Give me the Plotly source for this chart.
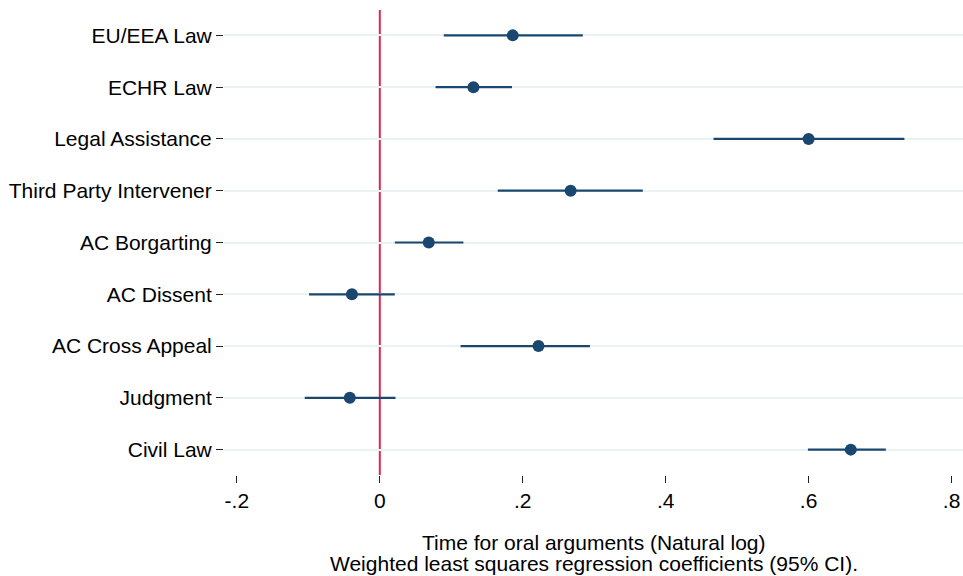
import plotly.graph_objects as go

categories = ["EU/EEA Law", "ECHR Law", "Legal Assistance", "Third Party Intervener",
              "AC Borgarting", "AC Dissent", "AC Cross Appeal", "Judgment", "Civil Law"]
coef = [0.186, 0.131, 0.600, 0.267, 0.0685, -0.039, 0.222, -0.042, 0.659]
ci_low = [0.0895, 0.078, 0.467, 0.165, 0.021, -0.099, 0.113, -0.105, 0.599]
ci_high = [0.284, 0.185, 0.734, 0.368, 0.117, 0.021, 0.294, 0.022, 0.708]
x_ticks = [-0.2, 0, 0.2, 0.4, 0.6, 0.8]
x_tick_labels = ["-.2", "0", ".2", ".4", ".6", ".8"]
title_lines = ["Time for oral arguments (Natural log)",
               "Weighted least squares regression coefficients (95% CI)."]

navy = "#1a476f"
n = len(categories)
ypos = [n - i for i in range(n)]

fig = go.Figure()
fig.add_trace(go.Scatter(
    x=coef, y=ypos, mode="markers",
    marker=dict(size=12, color=navy),
    error_x=dict(type="data", symmetric=False,
                 array=[h - c for h, c in zip(ci_high, coef)],
                 arrayminus=[c - l for c, l in zip(coef, ci_low)],
                 width=0, thickness=2.2, color=navy),
    showlegend=False, hoverinfo="skip"))

fig.add_shape(type="line", x0=0, x1=0, xref="x", y0=0, y1=1, yref="paper",
              line=dict(color="#e0284f", width=2), layer="below")

font = "Liberation Sans, Arial, sans-serif"
W, H = 963, 576
ml, mt, mb = 224, 10, 101
fig.update_layout(
    width=W, height=H,
    margin=dict(l=ml, r=0, t=mt, b=mb),
    paper_bgcolor="white", plot_bgcolor="white",
    font=dict(family=font, size=21, color="#000000"),
    xaxis=dict(range=[-0.218, 0.816], tickvals=x_ticks, ticktext=x_tick_labels,
               showgrid=False, zeroline=False, showline=False,
               ticks="outside", ticklen=7, tickcolor="#222222", tickwidth=1,
               ticklabeloverflow="allow",
               tickfont=dict(size=21, family=font, color="#000")),
    yaxis=dict(range=[0.51, 9.49], tickvals=ypos, ticktext=categories,
               showgrid=True, gridcolor="#eaf2f3", gridwidth=1.5,
               zeroline=False, showline=False,
               ticks="outside", ticklen=7, tickcolor="#222222", tickwidth=1,
               tickfont=dict(size=21, family=font, color="#000")),
)
plot_h = H - mt - mb
for txt, dy in zip(title_lines, [67, 88]):
    fig.add_annotation(text=txt, x=0.5, xref="paper",
                       y=-dy / plot_h, yref="paper", yanchor="middle",
                       showarrow=False, font=dict(size=21, family=font, color="#000"))

fig.write_html("out.html", config={"displayModeBar": False},
               post_script="document.body.style.margin='0';document.body.style.overflow='hidden';")
